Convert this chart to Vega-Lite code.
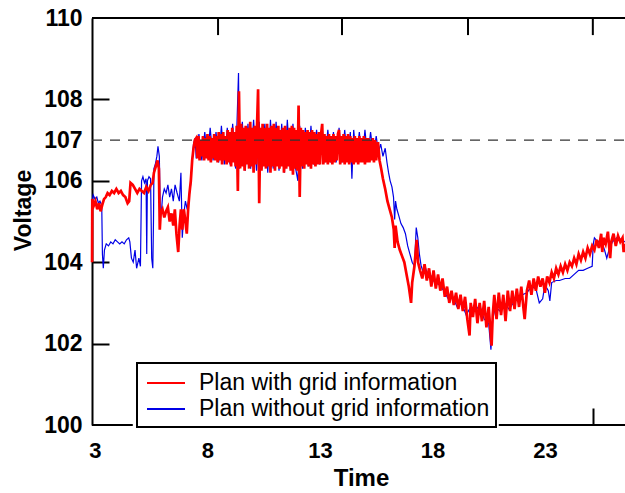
{
  "$schema": "https://vega.github.io/schema/vega-lite/v6.json",
  "width": 533,
  "height": 407,
  "autosize": {"type": "none"},
  "padding": {"left": 92, "top": 18, "right": 0, "bottom": 68},
  "background": "white",
  "config": {
    "view": {"stroke": null},
    "font": "Liberation Sans",
    "legend": {"strokeWidth": 2},
    "axis": {
      "domainColor": "black", "domainWidth": 2, "tickColor": "black", "tickWidth": 2,
      "labelColor": "black", "titleColor": "black", "grid": false,
      "labelFont": "Liberation Sans", "labelFontWeight": "bold",
      "titleFont": "Liberation Sans", "titleFontWeight": "bold"
    }
  },
  "datasets": {
    "red": [
      {"t":2.87,"v":104.0},{"t":2.88,"v":105.55},{"t":2.95,"v":105.4},{"t":3.02,"v":105.5},{"t":3.1,"v":105.3},{"t":3.18,"v":105.45},{"t":3.25,"v":105.25},{"t":3.32,"v":105.4},{"t":3.4,"v":105.55},{"t":3.48,"v":105.6},{"t":3.56,"v":105.7},{"t":3.65,"v":105.65},{"t":3.75,"v":105.75},{"t":3.85,"v":105.7},{"t":3.95,"v":105.8},{"t":4.05,"v":105.7},{"t":4.15,"v":105.75},{"t":4.25,"v":105.65},{"t":4.35,"v":105.6},{"t":4.45,"v":105.45},{"t":4.52,"v":105.5},{"t":4.58,"v":105.95},{"t":4.68,"v":105.9},{"t":4.78,"v":105.8},{"t":4.88,"v":105.7},{"t":4.98,"v":105.8},{"t":5.08,"v":105.75},{"t":5.18,"v":105.7},{"t":5.28,"v":105.85},{"t":5.38,"v":105.75},{"t":5.48,"v":105.9},{"t":5.56,"v":105.95},{"t":5.62,"v":106.2},{"t":5.7,"v":106.35},{"t":5.78,"v":106.5},{"t":5.84,"v":106.3},{"t":5.88,"v":104.8},{"t":5.92,"v":105.2},{"t":6.0,"v":105.3},{"t":6.08,"v":105.1},{"t":6.16,"v":105.25},{"t":6.24,"v":105.35},{"t":6.32,"v":105.0},{"t":6.4,"v":105.2},{"t":6.48,"v":104.9},{"t":6.55,"v":105.3},{"t":6.62,"v":104.7},{"t":6.7,"v":104.25},{"t":6.76,"v":104.9},{"t":6.82,"v":105.3},{"t":6.88,"v":104.8},{"t":6.95,"v":105.3},{"t":7.02,"v":105.0},{"t":7.08,"v":104.7},{"t":7.14,"v":105.3},{"t":7.2,"v":105.7},{"t":7.26,"v":106.0},{"t":7.32,"v":106.5},{"t":7.38,"v":106.8},{"t":7.44,"v":107.0},
      {"t":7.5,"v":107.05},{"t":7.55,"v":106.55},{"t":7.6,"v":107.1},{"t":7.65,"v":106.5},{"t":7.7,"v":107.0},{"t":7.75,"v":106.6},{"t":7.8,"v":107.1},{"t":7.85,"v":106.5},{"t":7.9,"v":107.05},{"t":7.95,"v":106.55},{"t":8.0,"v":107.15},{"t":8.05,"v":106.5},{"t":8.1,"v":107.1},{"t":8.15,"v":106.45},{"t":8.2,"v":107.05},{"t":8.25,"v":106.55},{"t":8.3,"v":107.15},{"t":8.35,"v":106.5},{"t":8.4,"v":107.1},{"t":8.45,"v":106.45},{"t":8.5,"v":107.2},{"t":8.55,"v":106.5},{"t":8.6,"v":107.15},{"t":8.65,"v":106.4},{"t":8.7,"v":107.2},{"t":8.75,"v":106.5},{"t":8.8,"v":107.1},{"t":8.85,"v":106.4},{"t":8.9,"v":107.25},{"t":8.95,"v":106.45},{"t":9.0,"v":107.2},{"t":9.05,"v":106.35},{"t":9.1,"v":107.3},{"t":9.15,"v":106.45},{"t":9.2,"v":107.2},{"t":9.25,"v":106.35},{"t":9.3,"v":107.35},{"t":9.35,"v":105.75},{"t":9.4,"v":108.2},{"t":9.45,"v":106.3},{"t":9.5,"v":107.4},{"t":9.55,"v":106.35},{"t":9.6,"v":107.3},{"t":9.65,"v":106.25},{"t":9.7,"v":107.35},{"t":9.75,"v":106.4},{"t":9.8,"v":107.3},{"t":9.85,"v":106.3},{"t":9.9,"v":107.45},{"t":9.95,"v":106.35},{"t":10.0,"v":107.3},{"t":10.05,"v":106.2},{"t":10.1,"v":107.35},{"t":10.15,"v":106.4},{"t":10.2,"v":107.3},{"t":10.25,"v":108.25},{"t":10.3,"v":105.45},{"t":10.35,"v":107.3},{"t":10.4,"v":106.25},{"t":10.45,"v":107.4},{"t":10.5,"v":106.35},{"t":10.55,"v":107.3},{"t":10.6,"v":106.3},{"t":10.65,"v":107.4},{"t":10.7,"v":106.35},{"t":10.75,"v":107.3},{"t":10.8,"v":106.2},{"t":10.85,"v":107.35},{"t":10.9,"v":106.35},{"t":10.95,"v":107.4},{"t":11.0,"v":106.25},{"t":11.05,"v":107.3},{"t":11.1,"v":106.35},{"t":11.15,"v":107.35},{"t":11.2,"v":106.3},{"t":11.25,"v":107.25},{"t":11.3,"v":106.35},{"t":11.35,"v":107.3},{"t":11.4,"v":106.2},{"t":11.45,"v":107.35},{"t":11.5,"v":106.3},{"t":11.55,"v":107.25},{"t":11.6,"v":106.35},{"t":11.65,"v":107.3},{"t":11.7,"v":106.25},{"t":11.75,"v":107.35},{"t":11.8,"v":106.15},{"t":11.85,"v":107.3},{"t":11.9,"v":106.3},{"t":11.95,"v":107.25},{"t":12.0,"v":106.25},{"t":12.05,"v":107.85},{"t":12.1,"v":105.6},{"t":12.15,"v":107.3},{"t":12.2,"v":106.35},{"t":12.25,"v":107.25},{"t":12.3,"v":106.3},{"t":12.35,"v":107.2},{"t":12.4,"v":106.4},{"t":12.45,"v":107.25},{"t":12.5,"v":106.35},{"t":12.55,"v":107.2},{"t":12.6,"v":106.3},{"t":12.65,"v":107.25},{"t":12.7,"v":106.4},{"t":12.75,"v":107.2},{"t":12.8,"v":106.35},{"t":12.85,"v":107.15},{"t":12.9,"v":106.4},{"t":12.95,"v":107.2},{"t":13.0,"v":106.4},{"t":13.05,"v":107.15},{"t":13.1,"v":107.4},{"t":13.15,"v":106.4},{"t":13.2,"v":107.15},{"t":13.25,"v":106.45},{"t":13.3,"v":107.1},{"t":13.35,"v":106.4},{"t":13.4,"v":107.15},{"t":13.45,"v":106.45},{"t":13.5,"v":107.1},{"t":13.55,"v":106.4},{"t":13.6,"v":107.15},{"t":13.65,"v":106.45},{"t":13.7,"v":107.1},{"t":13.75,"v":106.5},{"t":13.8,"v":107.15},{"t":13.85,"v":107.25},{"t":13.9,"v":106.4},{"t":13.95,"v":107.1},{"t":14.0,"v":106.45},{"t":14.05,"v":107.15},{"t":14.1,"v":106.4},{"t":14.15,"v":107.1},{"t":14.2,"v":106.45},{"t":14.25,"v":107.15},{"t":14.3,"v":106.4},{"t":14.35,"v":107.1},{"t":14.4,"v":106.45},{"t":14.45,"v":107.05},{"t":14.5,"v":106.4},{"t":14.55,"v":107.1},{"t":14.6,"v":106.45},{"t":14.65,"v":107.05},{"t":14.7,"v":106.4},{"t":14.75,"v":107.1},{"t":14.8,"v":106.45},{"t":14.85,"v":107.05},{"t":14.9,"v":106.45},{"t":14.95,"v":107.1},{"t":15.0,"v":106.4},{"t":15.05,"v":107.05},{"t":15.1,"v":106.45},{"t":15.15,"v":107.05},{"t":15.2,"v":106.45},{"t":15.25,"v":107.0},{"t":15.3,"v":106.5},{"t":15.35,"v":107.05},{"t":15.4,"v":106.45},{"t":15.45,"v":107.0},{"t":15.5,"v":106.5},
      {"t":15.58,"v":106.95},{"t":15.65,"v":106.5},{"t":15.72,"v":106.3},{"t":15.8,"v":106.05},{"t":15.9,"v":105.8},{"t":16.0,"v":105.5},{"t":16.1,"v":105.3},{"t":16.2,"v":105.1},{"t":16.28,"v":104.8},{"t":16.32,"v":104.35},{"t":16.36,"v":104.9},{"t":16.45,"v":104.5},{"t":16.55,"v":104.3},{"t":16.65,"v":104.15},{"t":16.75,"v":104.0},{"t":16.85,"v":103.7},{"t":16.95,"v":103.4},{"t":17.05,"v":103.0},{"t":17.1,"v":103.5},{"t":17.2,"v":103.9},{"t":17.3,"v":104.55},{"t":17.36,"v":104.0},
      {"t":17.45,"v":103.8},{"t":17.55,"v":103.6},{"t":17.65,"v":103.95},{"t":17.75,"v":103.55},{"t":17.85,"v":103.85},{"t":17.95,"v":103.4},{"t":18.05,"v":103.8},{"t":18.15,"v":103.35},{"t":18.25,"v":103.7},{"t":18.35,"v":103.3},{"t":18.45,"v":103.6},{"t":18.55,"v":103.15},{"t":18.65,"v":103.4},{"t":18.75,"v":103.0},{"t":18.85,"v":103.3},{"t":18.95,"v":102.95},{"t":19.05,"v":103.25},{"t":19.15,"v":102.85},{"t":19.25,"v":103.2},{"t":19.35,"v":102.8},{"t":19.45,"v":103.15},{"t":19.55,"v":102.6},{"t":19.65,"v":102.2},{"t":19.7,"v":103.0},{"t":19.8,"v":102.65},{"t":19.9,"v":103.1},{"t":20.0,"v":102.5},{"t":20.1,"v":103.0},{"t":20.2,"v":102.55},{"t":20.3,"v":103.05},{"t":20.4,"v":102.4},{"t":20.5,"v":102.9},{"t":20.58,"v":102.3},{"t":20.63,"v":101.95},{"t":20.68,"v":102.7},{"t":20.75,"v":103.2},{"t":20.85,"v":102.6},{"t":20.95,"v":103.25},{"t":21.05,"v":102.7},{"t":21.15,"v":103.2},{"t":21.25,"v":102.55},{"t":21.35,"v":103.3},{"t":21.45,"v":102.8},{"t":21.55,"v":103.3},{"t":21.65,"v":102.85},{"t":21.75,"v":103.35},{"t":21.85,"v":102.9},{"t":21.95,"v":103.4},{"t":22.05,"v":102.85},{"t":22.1,"v":102.6},{"t":22.2,"v":103.3},{"t":22.3,"v":103.55},{"t":22.4,"v":103.2},{"t":22.5,"v":103.6},{"t":22.6,"v":103.3},{"t":22.7,"v":103.65},{"t":22.8,"v":103.4},{"t":22.9,"v":103.6},{"t":23.0,"v":103.25},{"t":23.1,"v":103.65},{"t":23.2,"v":103.5},{"t":23.3,"v":103.75},{"t":23.4,"v":103.6},{"t":23.5,"v":103.85},{"t":23.6,"v":103.7},{"t":23.7,"v":103.9},{"t":23.8,"v":103.75},{"t":23.9,"v":103.95},{"t":24.0,"v":103.8},{"t":24.1,"v":104.0},{"t":24.2,"v":103.9},{"t":24.3,"v":104.1},{"t":24.4,"v":103.95},{"t":24.5,"v":104.2},{"t":24.6,"v":104.05},{"t":24.7,"v":104.25},{"t":24.8,"v":104.1},{"t":24.9,"v":104.35},{"t":25.0,"v":104.2},{"t":25.1,"v":104.4},{"t":25.2,"v":104.3},{"t":25.3,"v":104.55},{"t":25.4,"v":104.35},{"t":25.5,"v":104.7},{"t":25.55,"v":104.25},{"t":25.6,"v":104.6},{"t":25.7,"v":104.45},{"t":25.8,"v":104.75},{"t":25.9,"v":104.1},{"t":25.95,"v":104.5},{"t":26.05,"v":104.7},{"t":26.15,"v":104.4},{"t":26.25,"v":104.65},{"t":26.35,"v":104.5},{"t":26.45,"v":104.6},{"t":26.5,"v":104.25},{"t":26.56,"v":104.45}
    ],
    "blue": [
      {"t":2.87,"v":105.5},{"t":2.92,"v":105.65},{"t":3.0,"v":105.55},{"t":3.08,"v":105.6},{"t":3.15,"v":105.45},{"t":3.22,"v":105.5},{"t":3.3,"v":105.4},{"t":3.33,"v":104.2},{"t":3.37,"v":103.85},{"t":3.42,"v":104.3},{"t":3.5,"v":104.45},{"t":3.6,"v":104.4},{"t":3.7,"v":104.5},{"t":3.8,"v":104.45},{"t":3.9,"v":104.55},{"t":4.0,"v":104.5},{"t":4.1,"v":104.45},{"t":4.2,"v":104.5},{"t":4.3,"v":104.45},{"t":4.4,"v":104.55},{"t":4.5,"v":104.6},{"t":4.55,"v":104.5},{"t":4.62,"v":104.1},{"t":4.7,"v":104.0},{"t":4.78,"v":104.3},{"t":4.85,"v":103.85},{"t":4.95,"v":104.1},{"t":5.02,"v":103.9},{"t":5.07,"v":106.0},{"t":5.13,"v":106.1},{"t":5.2,"v":105.95},{"t":5.27,"v":106.05},{"t":5.3,"v":104.2},{"t":5.33,"v":106.0},{"t":5.4,"v":106.1},{"t":5.47,"v":106.05},{"t":5.52,"v":104.1},{"t":5.57,"v":103.85},{"t":5.6,"v":105.0},{"t":5.62,"v":106.3},{"t":5.68,"v":106.4},{"t":5.75,"v":106.6},{"t":5.8,"v":106.85},{"t":5.86,"v":106.6},{"t":5.9,"v":105.3},{"t":5.95,"v":105.2},{"t":6.0,"v":105.6},{"t":6.08,"v":105.8},{"t":6.16,"v":105.7},{"t":6.24,"v":105.9},{"t":6.32,"v":105.6},{"t":6.4,"v":105.8},{"t":6.48,"v":105.5},{"t":6.56,"v":105.9},{"t":6.65,"v":105.7},{"t":6.75,"v":105.5},{"t":6.82,"v":106.2},{"t":6.88,"v":104.6},{"t":6.95,"v":105.2},{"t":7.02,"v":105.5},{"t":7.1,"v":105.3},{"t":7.18,"v":105.6},{"t":7.25,"v":105.9},{"t":7.32,"v":106.5},{"t":7.38,"v":106.9},{"t":7.45,"v":107.05},
      {"t":7.5,"v":106.55},{"t":7.62,"v":107.15},{"t":7.75,"v":106.5},{"t":7.88,"v":107.2},{"t":8.0,"v":106.55},{"t":8.12,"v":107.3},{"t":8.25,"v":106.5},{"t":8.38,"v":107.2},{"t":8.5,"v":106.45},{"t":8.62,"v":107.35},{"t":8.75,"v":106.4},{"t":8.88,"v":107.3},{"t":9.0,"v":106.4},{"t":9.12,"v":107.4},{"t":9.25,"v":106.3},{"t":9.38,"v":108.65},{"t":9.42,"v":106.3},{"t":9.55,"v":107.45},{"t":9.68,"v":106.25},{"t":9.8,"v":107.4},{"t":9.92,"v":106.3},{"t":10.05,"v":107.5},{"t":10.18,"v":106.25},{"t":10.3,"v":107.45},{"t":10.42,"v":106.3},{"t":10.55,"v":107.4},{"t":10.68,"v":106.2},{"t":10.8,"v":107.5},{"t":10.92,"v":106.3},{"t":11.05,"v":107.45},{"t":11.18,"v":106.25},{"t":11.3,"v":107.4},{"t":11.42,"v":106.2},{"t":11.55,"v":107.5},{"t":11.68,"v":106.3},{"t":11.8,"v":107.4},{"t":11.92,"v":106.3},{"t":12.02,"v":106.0},{"t":12.1,"v":107.35},{"t":12.22,"v":106.3},{"t":12.35,"v":107.3},{"t":12.48,"v":106.35},{"t":12.6,"v":107.35},{"t":12.72,"v":106.4},{"t":12.85,"v":107.25},{"t":12.98,"v":106.4},{"t":13.1,"v":107.3},{"t":13.22,"v":106.45},{"t":13.35,"v":107.25},{"t":13.48,"v":106.45},{"t":13.6,"v":107.2},{"t":13.72,"v":106.45},{"t":13.85,"v":107.3},{"t":13.98,"v":106.45},{"t":14.1,"v":107.25},{"t":14.22,"v":106.5},{"t":14.35,"v":107.2},{"t":14.42,"v":106.05},{"t":14.5,"v":107.25},{"t":14.62,"v":106.5},{"t":14.75,"v":107.2},{"t":14.88,"v":106.5},{"t":15.0,"v":107.25},{"t":15.12,"v":106.55},{"t":15.25,"v":107.2},{"t":15.38,"v":106.6},{"t":15.5,"v":107.1},{"t":15.6,"v":106.7},
      {"t":15.7,"v":106.9},{"t":15.8,"v":106.6},{"t":15.9,"v":106.8},{"t":15.98,"v":106.45},{"t":16.05,"v":106.2},{"t":16.12,"v":106.0},{"t":16.2,"v":105.85},{"t":16.27,"v":105.6},{"t":16.32,"v":105.05},{"t":16.36,"v":105.5},{"t":16.42,"v":105.3},{"t":16.5,"v":105.15},{"t":16.6,"v":104.95},{"t":16.7,"v":104.85},{"t":16.8,"v":104.7},{"t":16.9,"v":104.4},{"t":17.0,"v":104.2},{"t":17.1,"v":104.0},{"t":17.2,"v":103.9},{"t":17.28,"v":104.85},{"t":17.35,"v":104.6},{"t":17.42,"v":104.2},{"t":17.5,"v":103.9},{"t":17.6,"v":103.75},{"t":17.7,"v":103.85},{"t":17.8,"v":103.65},
      {"t":17.9,"v":103.7},{"t":18.1,"v":103.5},{"t":18.3,"v":103.45},{"t":18.5,"v":103.3},{"t":18.7,"v":103.1},{"t":18.9,"v":103.15},{"t":19.1,"v":102.9},{"t":19.3,"v":103.0},{"t":19.5,"v":102.7},{"t":19.7,"v":102.9},{"t":19.9,"v":102.8},{"t":20.1,"v":102.95},{"t":20.3,"v":102.6},{"t":20.5,"v":102.5},{"t":20.6,"v":101.85},{"t":20.68,"v":102.6},{"t":20.8,"v":102.9},{"t":21.0,"v":102.8},{"t":21.2,"v":103.0},{"t":21.4,"v":102.85},{"t":21.6,"v":103.0},{"t":21.8,"v":103.1},{"t":22.0,"v":103.2},{"t":22.2,"v":103.25},{"t":22.4,"v":103.4},{"t":22.6,"v":103.35},{"t":22.75,"v":103.0},{"t":22.9,"v":103.1},{"t":23.0,"v":103.45},{"t":23.15,"v":103.3},{"t":23.22,"v":103.05},{"t":23.3,"v":103.5},{"t":23.5,"v":103.55},{"t":23.65,"v":103.55},{"t":23.9,"v":103.6},{"t":24.1,"v":103.6},{"t":24.3,"v":103.7},{"t":24.5,"v":103.8},{"t":24.7,"v":103.8},{"t":24.9,"v":103.85},{"t":25.1,"v":103.9},{"t":25.15,"v":104.45},{"t":25.2,"v":104.6},{"t":25.35,"v":104.5},{"t":25.5,"v":104.55},{"t":25.65,"v":104.3},{"t":25.75,"v":104.1},{"t":25.85,"v":104.3},{"t":26.0,"v":104.5},{"t":26.2,"v":104.6},{"t":26.4,"v":104.55},{"t":26.56,"v":104.5}
    ],
    "frame": [
      {"t": 2.867, "t2": 4.68, "v": 100},
      {"t": 20.95, "t2": 26.6, "v": 100},
      {"t": 2.867, "t2": 26.6, "v": 110}
    ],
    "topticks": [
      {"t": 8.47}, {"t": 13.98}, {"t": 19.58}, {"t": 25.13}
    ]
  },
  "layer": [
    {
      "data": {"name": "blue"},
      "mark": {"type": "line", "strokeWidth": 1.2},
      "encoding": {
        "x": {
          "field": "t", "type": "quantitative",
          "scale": {"domain": [2.867, 26.56], "nice": false, "zero": false},
          "axis": {
            "orient": "bottom", "title": "Time",
            "values": [3, 8, 13, 18, 23, 8.47, 13.98, 19.58, 25.13],
            "labelExpr": "datum.value % 1 == 0 ? datum.label : ''",
            "tickOpacity": {"condition": {"test": "datum.value % 1 != 0", "value": 1}, "value": 0},
            "tickSize": -17, "labelPadding": 32, "labelFontSize": 22,
            "labelFlush": false, "labelOverlap": false, "domain": false,
            "titleFontSize": 24, "titleX": 269, "titleY": 60, "titleBaseline": "alphabetic", "titleAlign": "center"
          }
        },
        "y": {
          "field": "v", "type": "quantitative",
          "scale": {"domain": [100, 110], "nice": false, "zero": false},
          "axis": {
            "orient": "left", "title": "Voltage",
            "values": [100, 102, 104, 106, 107, 108, 110],
            "tickOpacity": {"condition": {"test": "datum.value == 102 || datum.value == 104 || datum.value == 106 || datum.value == 108", "value": 1}, "value": 0},
            "tickSize": -17, "labelPadding": 27, "labelFontSize": 23,
            "labelFlush": false, "labelOverlap": false,
            "titleFontSize": 23, "titleAngle": 270, "titleX": -62, "titleY": 192,
            "titleBaseline": "alphabetic", "titleAlign": "center"
          }
        },
        "color": {
          "datum": "Plan without grid information",
          "scale": {"domain": ["Plan with grid information", "Plan without grid information"], "range": ["#FF0000", "#0000E6"]},
          "legend": {
            "orient": "none", "legendX": 45, "legendY": 345, "direction": "vertical", "title": null,
            "symbolType": "M-0.769,0H2.154", "symbolSize": 676, "symbolStrokeWidth": 2,
            "labelFontSize": 23, "labelFont": "Liberation Sans", "labelColor": "black", "labelLimit": 400,
            "labelOffset": 28, "padding": 6, "rowPadding": -2,
            "strokeColor": "black", "fillColor": "white"
          }
        }
      }
    },
    {
      "data": {"name": "red"},
      "mark": {"type": "line", "strokeWidth": 2.7},
      "encoding": {
        "x": {"field": "t", "type": "quantitative"},
        "y": {"field": "v", "type": "quantitative"},
        "color": {"datum": "Plan with grid information"}
      }
    },
    {
      "data": {"name": "frame"},
      "mark": {"type": "rule", "color": "black", "strokeWidth": 2},
      "encoding": {
        "x": {"field": "t", "type": "quantitative"},
        "x2": {"field": "t2"},
        "y": {"field": "v", "type": "quantitative"}
      }
    },
    {
      "data": {"name": "topticks"},
      "mark": {"type": "rule", "color": "black", "strokeWidth": 2},
      "encoding": {
        "x": {"field": "t", "type": "quantitative"},
        "y": {"datum": 110},
        "y2": {"datum": 109.58}
      }
    },
    {
      "data": {"values": [{"t": 2.867, "t2": 26.6}]},
      "mark": {"type": "rule", "color": "#333333", "strokeWidth": 1.3, "strokeDash": [10, 8]},
      "encoding": {
        "x": {"field": "t", "type": "quantitative"},
        "x2": {"field": "t2"},
        "y": {"datum": 107}
      }
    }
  ]
}
